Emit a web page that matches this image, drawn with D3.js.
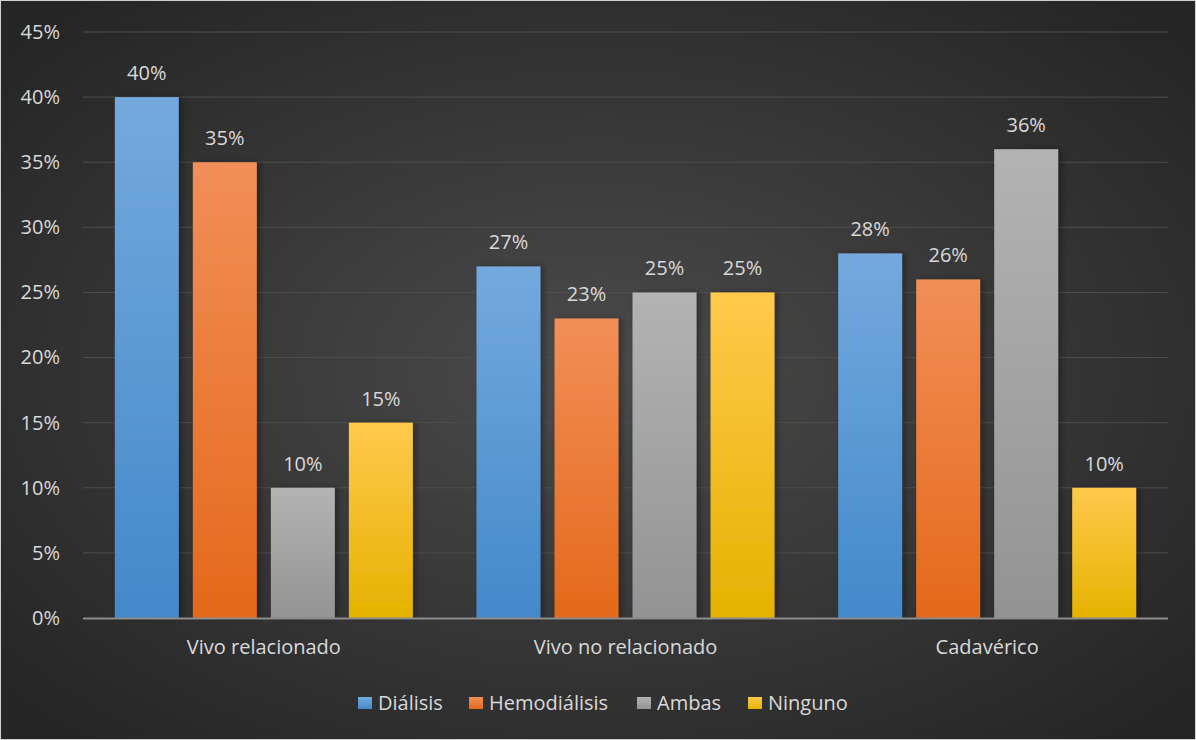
<!DOCTYPE html>
<html>
<head>
<meta charset="utf-8">
<script src="https://cdn.jsdelivr.net/npm/d3@7"></script>
<style>
  html, body { margin: 0; padding: 0; background: #2a2a2a; }
  svg { display: block; }
  text { font-family: "Open Sans", "Noto Sans", sans-serif; }
</style>
</head>
<body>
<svg id="chart" width="1196" height="740"></svg>
<script>
// Tipo de donante por tratamiento previo
const categories = ["Vivo relacionado", "Vivo no relacionado", "Cadavérico"];
const seriesNames = ["Diálisis", "Hemodiálisis", "Ambas", "Ninguno"];
const dialisis     = [40, 27, 28];
const hemodialisis = [35, 23, 26];
const ambas        = [10, 25, 36];
const ninguno      = [15, 25, 10];
const yTicks = [0, 5, 10, 15, 20, 25, 30, 35, 40, 45];

const seriesValues = [dialisis, hemodialisis, ambas, ninguno];
const colors = [
  { top: "#74a9dd", bottom: "#4389cb" },
  { top: "#f28e58", bottom: "#e4691a" },
  { top: "#b3b3b3", bottom: "#939393" },
  { top: "#ffc94c", bottom: "#e5b200" }
];

const W = 1196, H = 740;
const m = { left: 83, right: 28, top: 32, bottom: 122 };
const FS = "20px";
const svg = d3.select("#chart");
const defs = svg.append("defs");

const bg = defs.append("radialGradient").attr("id", "bg")
  .attr("cx", "50%").attr("cy", "50%").attr("r", "65%");
bg.append("stop").attr("offset", "0%").attr("stop-color", "#4b4b4b");
bg.append("stop").attr("offset", "100%").attr("stop-color", "#262626");

colors.forEach((c, i) => {
  const g = defs.append("linearGradient").attr("id", "g" + i)
    .attr("x1", 0).attr("y1", 0).attr("x2", 0).attr("y2", 1);
  g.append("stop").attr("offset", "0%").attr("stop-color", c.top);
  g.append("stop").attr("offset", "100%").attr("stop-color", c.bottom);
});

const shadow = defs.append("filter").attr("id", "shadow")
  .attr("x", "-20%").attr("y", "-10%").attr("width", "150%").attr("height", "120%");
shadow.append("feDropShadow").attr("dx", 3).attr("dy", 0).attr("stdDeviation", 3)
  .attr("flood-color", "#000").attr("flood-opacity", 0.35);

svg.append("rect").attr("x", 0.5).attr("y", 0.5).attr("width", W - 1).attr("height", H - 1)
  .attr("fill", "url(#bg)").attr("stroke", "#d0d0d0").attr("stroke-width", 1);

const x0 = d3.scaleBand().domain(categories).range([m.left, W - m.right]).padding(0);
const inner = x0.bandwidth() * 0.088;
const x1 = d3.scaleBand().domain(seriesNames)
  .range([inner, x0.bandwidth() - inner]).paddingInner(0.18).paddingOuter(0);
const y = d3.scaleLinear().domain([0, 45]).range([H - m.bottom, m.top]);

// gridlines
svg.append("g")
  .selectAll("line").data(yTicks.filter(d => d > 0)).join("line")
  .attr("x1", m.left).attr("x2", W - m.right)
  .attr("y1", d => y(d)).attr("y2", d => y(d))
  .attr("stroke", "#4e4e4e").attr("stroke-width", 1);

// y axis labels
const yAxis = d3.axisLeft(y).tickValues(yTicks).tickFormat(d => d + "%").tickSize(0).tickPadding(23);
const ya = svg.append("g").attr("transform", `translate(${m.left},0)`).call(yAxis);
ya.select(".domain").remove();
ya.selectAll("text").attr("fill", "#d9d9d9").style("font-size", FS)
  .style("font-family", "'Open Sans', sans-serif");

// bars
const groups = svg.append("g").selectAll("g").data(categories).join("g")
  .attr("transform", d => `translate(${x0(d)},0)`);

groups.each(function(cat, ci) {
  const g = d3.select(this);
  const data = seriesNames.map((s, si) => ({ s, si, v: seriesValues[si][ci] }));
  g.selectAll("rect").data(data).join("rect")
    .attr("x", d => x1(d.s)).attr("width", x1.bandwidth())
    .attr("y", d => y(d.v)).attr("height", d => y(0) - y(d.v))
    .attr("fill", d => `url(#g${d.si})`)
    .attr("filter", "url(#shadow)");
  g.selectAll("text").data(data).join("text")
    .attr("x", d => x1(d.s) + x1.bandwidth() / 2)
    .attr("y", d => y(d.v) - 17)
    .attr("text-anchor", "middle")
    .attr("fill", "#d9d9d9").style("font-size", FS)
    .text(d => d.v + "%");
});

// baseline
svg.append("line").attr("x1", m.left).attr("x2", W - m.right)
  .attr("y1", y(0) + 0.5).attr("y2", y(0) + 0.5)
  .attr("stroke", "#8c8c8c").attr("stroke-width", 2);

// category labels
const xAxis = d3.axisBottom(x0).tickSize(0).tickPadding(22);
const xa = svg.append("g").attr("transform", `translate(0,${y(0)})`).call(xAxis);
xa.select(".domain").remove();
xa.selectAll("text").attr("fill", "#d9d9d9").style("font-size", FS)
  .style("font-family", "'Open Sans', sans-serif");

// legend
const legendX = [358, 469, 637, 748];
const legend = svg.append("g").selectAll("g").data(seriesNames).join("g")
  .attr("transform", (d, i) => `translate(${legendX[i]},697)`);
legend.append("rect").attr("width", 14).attr("height", 12)
  .attr("fill", (d, i) => `url(#g${i})`);
legend.append("text").attr("x", 20).attr("y", 13)
  .attr("fill", "#d9d9d9").style("font-size", FS).text(d => d);
</script>
</body>
</html>
